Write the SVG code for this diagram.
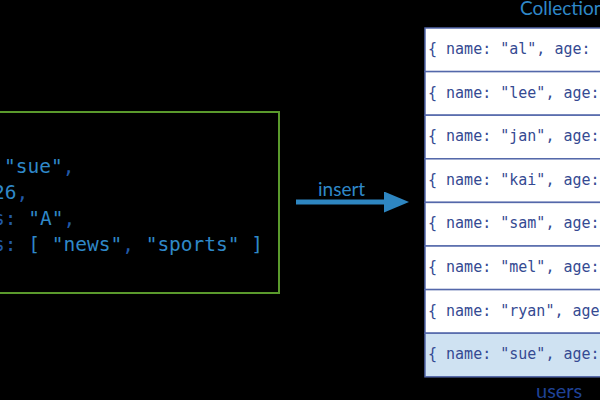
<svg xmlns="http://www.w3.org/2000/svg" width="600" height="400" viewBox="0 0 600 400">
<style>
.code{font-family:"DejaVu Sans Mono","Liberation Mono",monospace;font-size:19.5px;fill:#2f88c8}
.k{fill:#2159a8}
.row rect{fill:#ffffff;stroke:#5468aa;stroke-width:1.5}
.row text{font-family:"DejaVu Sans Mono","Liberation Mono",monospace;font-size:15px;fill:#354a92}
.lbl{font-family:"Lato","Open Sans",sans-serif;fill:#2f88c8}
</style>
<defs>
<marker id="ah" markerWidth="5" markerHeight="4.2" refX="0" refY="2.1" orient="auto" markerUnits="strokeWidth">
<path d="M0,0 L5,2.1 L0,4.2 Z" fill="#2e86c1"/>
</marker>
</defs>
<rect width="600" height="400" fill="#000000"/>
<g id="document">
<rect x="-10" y="112" width="289" height="181" fill="none" stroke="#5a9a2c" stroke-width="2"/>
<text class="code" x="4" y="173">"sue"<tspan class="k">,</tspan></text>
<text class="code" x="-7" y="199">26<tspan class="k">,</tspan></text>
<text class="code" x="-7" y="225"><tspan class="k">s: </tspan>"A"<tspan class="k">,</tspan></text>
<text class="code" x="-7" y="251"><tspan class="k">s: </tspan>[ "news"<tspan class="k">, </tspan>"sports" ]</text>
</g>
<g id="collection">
<text class="lbl" x="520" y="15" font-size="19">Collection</text>
<g class="row" id="r1"><rect x="425" y="28" width="190" height="43.6"/><text x="428" y="54">{ name: "al", age:</text></g>
<g class="row" id="r2"><rect x="425" y="71.6" width="190" height="43.6"/><text x="428" y="97.6">{ name: "lee", age:</text></g>
<g class="row" id="r3"><rect x="425" y="115.2" width="190" height="43.6"/><text x="428" y="141.2">{ name: "jan", age:</text></g>
<g class="row" id="r4"><rect x="425" y="158.8" width="190" height="43.6"/><text x="428" y="184.8">{ name: "kai", age:</text></g>
<g class="row" id="r5"><rect x="425" y="202.4" width="190" height="43.6"/><text x="428" y="228.4">{ name: "sam", age:</text></g>
<g class="row" id="r6"><rect x="425" y="246" width="190" height="43.6"/><text x="428" y="272">{ name: "mel", age:</text></g>
<g class="row" id="r7"><rect x="425" y="289.6" width="190" height="43.6"/><text x="428" y="315.6">{ name: "ryan", age:</text></g>
<g class="row" id="r8"><rect x="425" y="333.2" width="190" height="43.6" style="fill:#cfe2f2"/><text x="428" y="359.2">{ name: "sue", age:</text></g>
<text x="536" y="398" font-family="Lato,'Open Sans',sans-serif" font-size="20" fill="#1f4296">users</text>
</g>
<g id="connectors">
<line x1="296" y1="202" x2="384" y2="202" stroke="#2e86c1" stroke-width="5" marker-end="url(#ah)"/>
<text class="lbl" x="318" y="196" font-size="19">insert</text>
</g>
</svg>
